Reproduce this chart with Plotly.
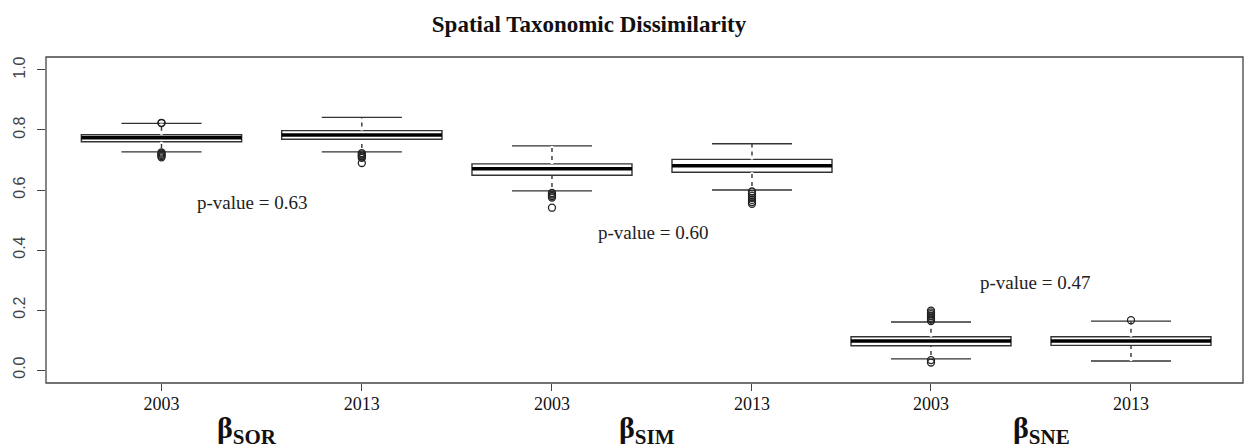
import plotly.graph_objects as go
from plotly.subplots import make_subplots

# ---------------- data ----------------
years = ["2003", "2013"]
metric_labels = ["β<sub>SOR</sub>", "β<sub>SIM</sub>", "β<sub>SNE</sub>"]
p_values = ["0.63", "0.60", "0.47"]
p_value_y = [0.557, 0.46, 0.293]
p_value_x = [1.45, 1.505, 1.52]

sor_lowerfence = [0.727, 0.727]
sor_q1 = [0.761, 0.769]
sor_median = [0.774, 0.783]
sor_q3 = [0.784, 0.798]
sor_upperfence = [0.822, 0.842]
sor_outliers_2003 = [0.824, 0.823, 0.725, 0.721, 0.717, 0.713, 0.709]
sor_outliers_2013 = [0.723, 0.719, 0.715, 0.711, 0.707, 0.690]

sim_lowerfence = [0.597, 0.600]
sim_q1 = [0.649, 0.659]
sim_median = [0.671, 0.681]
sim_q3 = [0.687, 0.702]
sim_upperfence = [0.747, 0.754]
sim_outliers_2003 = [0.590, 0.585, 0.580, 0.575, 0.541]
sim_outliers_2013 = [0.595, 0.588, 0.581, 0.574, 0.567, 0.560, 0.554]

sne_lowerfence = [0.037, 0.030]
sne_q1 = [0.081, 0.082]
sne_median = [0.097, 0.097]
sne_q3 = [0.111, 0.111]
sne_upperfence = [0.160, 0.163]
sne_outliers_2003 = [0.198, 0.192, 0.186, 0.180, 0.174, 0.168, 0.163, 0.033, 0.025]
sne_outliers_2013 = [0.166]

y_tick_vals = [0.0, 0.2, 0.4, 0.6, 0.8, 1.0]
y_tick_text = ["0.0", "0.2", "0.4", "0.6", "0.8", "1.0"]

panels = [
    dict(lf=sor_lowerfence, q1=sor_q1, med=sor_median, q3=sor_q3, uf=sor_upperfence,
         out=[sor_outliers_2003, sor_outliers_2013]),
    dict(lf=sim_lowerfence, q1=sim_q1, med=sim_median, q3=sim_q3, uf=sim_upperfence,
         out=[sim_outliers_2003, sim_outliers_2013]),
    dict(lf=sne_lowerfence, q1=sne_q1, med=sne_median, q3=sne_q3, uf=sne_upperfence,
         out=[sne_outliers_2003, sne_outliers_2013]),
]

# ---------------- layout constants ----------------
W, H = 1244, 448
ML, MR, MT, MB = 46, 1, 57, 65
x_ranges = [[0.4235, 2.455], [0.505, 2.465], [0.57, 2.56]]
domains = [[0.0, 0.34], [0.34, 0.6675], [0.6675, 1.0]]
label_x_paper = [0.168, 0.502, 0.832]
BOX_W = 0.8
EDGE = "#333333"
SERIF = "Liberation Serif, Times New Roman, serif"
SANS = "Liberation Sans, Arial, sans-serif"

fig = make_subplots(rows=1, cols=3, horizontal_spacing=0, shared_yaxes=False)

positions = [1, 2]
for i, p in enumerate(panels):
    col = i + 1
    fig.add_trace(go.Box(
        x=positions, q1=p["q1"], median=p["med"], q3=p["q3"],
        lowerfence=p["lf"], upperfence=p["uf"],
        width=BOX_W, whiskerwidth=0.5, boxpoints=False,
        fillcolor="white", line=dict(color=EDGE, width=1.4),
        hoverinfo="skip", showlegend=False,
    ), row=1, col=col)

    # white dashes over whiskers to make them dashed (R style)
    wx, wy = [], []
    for j, pos in enumerate(positions):
        wx += [pos, pos, None, pos, pos, None]
        wy += [p["q3"][j], p["uf"][j], None, p["lf"][j], p["q1"][j], None]
    fig.add_trace(go.Scatter(
        x=wx, y=wy, mode="lines",
        line=dict(color="white", width=2.6, dash="4px,4px"),
        hoverinfo="skip", showlegend=False,
    ), row=1, col=col)

    # thick median
    mx, my = [], []
    for j, pos in enumerate(positions):
        mx += [pos - BOX_W / 2, pos + BOX_W / 2, None]
        my += [p["med"][j], p["med"][j], None]
    fig.add_trace(go.Scatter(
        x=mx, y=my, mode="lines", line=dict(color="black", width=3.5),
        hoverinfo="skip", showlegend=False,
    ), row=1, col=col)

    # outliers
    for j, pos in enumerate(positions):
        vals = p["out"][j]
        fig.add_trace(go.Scatter(
            x=[pos] * len(vals), y=vals, mode="markers",
            marker=dict(symbol="circle-open", size=7, color="#222222",
                        line=dict(width=1.3, color="#222222")),
            hoverinfo="skip", showlegend=False,
        ), row=1, col=col)

    xa = "xaxis" if i == 0 else f"xaxis{col}"
    ya = "yaxis" if i == 0 else f"yaxis{col}"
    fig.layout[xa].update(
        domain=domains[i], range=x_ranges[i],
        tickmode="array", tickvals=positions, ticktext=years,
        ticks="outside", ticklen=7, tickwidth=1.2, tickcolor="#444444",
        ticklabelstandoff=-3,
        tickfont=dict(family=SERIF, size=18, color="#111111"),
        showline=False, showgrid=False, zeroline=False,
    )
    fig.layout[ya].update(
        range=[-0.0433, 1.0433], showgrid=False, zeroline=False, showline=False,
    )
    if i == 0:
        fig.layout[ya].update(
            tickmode="array", tickvals=y_tick_vals, ticktext=y_tick_text,
            ticks="outside", ticklen=8, tickwidth=1.2, tickcolor="#444444",
            tickangle=-90, ticklabelstandoff=6,
            tickfont=dict(family=SANS, size=16, color="#444444"),
        )
    else:
        fig.layout[ya].update(showticklabels=False, ticks="")

    # p-value annotation
    fig.add_annotation(
        x=p_value_x[i], y=p_value_y[i], xref=f"x{'' if i == 0 else col}",
        yref=f"y{'' if i == 0 else col}",
        text=f"p-value = {p_values[i]}", showarrow=False,
        xanchor="center", yanchor="middle",
        font=dict(family=SERIF, size=19, color="#222222"),
    )
    # metric label below
    fig.add_annotation(
        x=label_x_paper[i], y=-0.144, xref="paper", yref="paper",
        text=metric_labels[i], showarrow=False, xanchor="center", yanchor="middle",
        font=dict(family=SERIF, size=30, color="#111111", weight="bold"),
    )

# frame
fig.add_shape(type="rect", xref="paper", yref="paper", x0=0, x1=1, y0=0, y1=1,
              line=dict(color="#444444", width=1.3), layer="above")

fig.update_layout(
    width=W, height=H,
    margin=dict(l=ML, r=MR, t=MT, b=MB),
    paper_bgcolor="white", plot_bgcolor="white",
    showlegend=False,
    title=dict(text="<b>Spatial Taxonomic Dissimilarity</b>",
               x=589 / W, xanchor="center", y=1 - 24 / H, yanchor="middle",
               font=dict(family=SERIF, size=23, color="#111111")),
)

fig.write_html("out.html", config={"displayModeBar": False})
